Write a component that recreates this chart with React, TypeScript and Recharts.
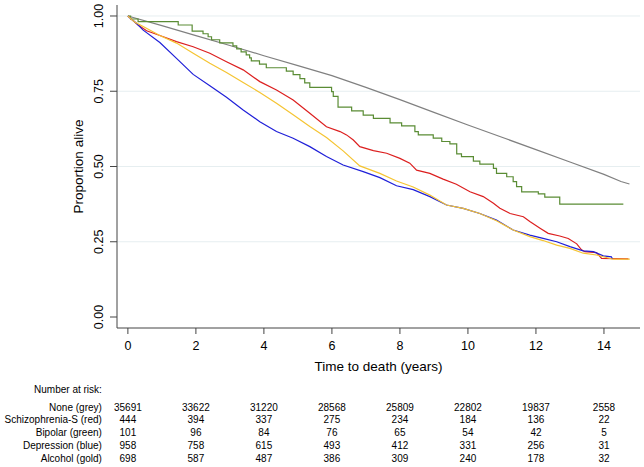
import React from 'react';
import { LineChart, Line, XAxis, YAxis, CartesianGrid, Label } from 'recharts';

const FONT = '"Liberation Sans", Arial, Helvetica, sans-serif';

const xTicks = [0, 2, 4, 6, 8, 10, 12, 14];
const yTicks = [0, 0.25, 0.5, 0.75, 1];
const gridValues = [0.25, 0.5, 0.75, 1];

const riskLabels = ['None (grey)', 'Schizophrenia-S (red)', 'Bipolar (green)', 'Depression (blue)', 'Alcohol (gold)'];
const riskNone = [35691, 33622, 31220, 28568, 25809, 22802, 19837, 2558];
const riskSchizo = [444, 394, 337, 275, 234, 184, 136, 22];
const riskBipolar = [101, 96, 84, 76, 65, 54, 42, 5];
const riskDepression = [958, 758, 615, 493, 412, 331, 256, 31];
const riskAlcohol = [698, 587, 487, 386, 309, 240, 178, 32];
const riskRows = [riskNone, riskSchizo, riskBipolar, riskDepression, riskAlcohol];

// None (grey)
const noneT = [0, 1, 2, 3, 4, 5, 6, 7, 8, 9, 10, 11, 12, 13, 14, 14.5, 14.75];
const noneS = [1, 0.968, 0.935, 0.902, 0.868, 0.835, 0.802, 0.763, 0.722, 0.68, 0.638, 0.597, 0.556, 0.515, 0.474, 0.45, 0.442];

// Schizophrenia-S (red)
const schizoT = [0, 0.15, 0.3, 0.55, 0.94, 1.43, 1.92, 2.41, 2.9, 3.39, 3.88, 4.37, 4.86, 5.35, 5.84, 6.24, 6.43, 6.63, 6.82, 7.22, 7.61, 8.0, 8.29, 8.49, 8.88, 9.27, 9.66, 10.06, 10.45, 10.75, 10.94, 11.24, 11.63, 11.82, 12.12, 12.36, 12.7, 12.95, 13.2, 13.34, 13.44, 13.78, 13.93, 14.72];
const schizoS = [1, 0.985, 0.97, 0.951, 0.935, 0.915, 0.898, 0.876, 0.848, 0.821, 0.782, 0.754, 0.721, 0.677, 0.632, 0.616, 0.605, 0.588, 0.566, 0.553, 0.544, 0.527, 0.511, 0.488, 0.477, 0.458, 0.441, 0.416, 0.4, 0.378, 0.361, 0.344, 0.333, 0.317, 0.295, 0.278, 0.269, 0.261, 0.243, 0.223, 0.217, 0.214, 0.195, 0.193];

// Bipolar (green) - step function
const bipolarT = [0, 0.08, 0.3, 1.48, 1.89, 2.21, 2.36, 2.46, 2.7, 3.09, 3.2, 3.33, 3.48, 3.58, 3.63, 3.87, 4.07, 4.66, 4.86, 5.06, 5.2, 5.35, 5.99, 6.04, 6.18, 6.58, 6.92, 7.22, 7.71, 8.05, 8.44, 8.54, 8.98, 9.23, 9.47, 9.67, 9.81, 10.16, 10.35, 10.75, 10.84, 11.14, 11.33, 11.43, 11.58, 12.07, 12.26, 12.7, 14.57];
const bipolarS = [1, 0.99, 0.981, 0.97, 0.95, 0.941, 0.931, 0.921, 0.911, 0.901, 0.891, 0.881, 0.871, 0.861, 0.851, 0.84, 0.828, 0.817, 0.805, 0.792, 0.778, 0.763, 0.749, 0.733, 0.697, 0.685, 0.671, 0.66, 0.645, 0.635, 0.616, 0.605, 0.594, 0.583, 0.575, 0.542, 0.533, 0.518, 0.508, 0.494, 0.477, 0.466, 0.45, 0.433, 0.416, 0.409, 0.398, 0.375, 0.375];

// Depression (blue)
const deprT = [0, 0.1, 0.25, 0.45, 0.94, 1.43, 1.92, 2.41, 2.9, 3.39, 3.88, 4.37, 4.86, 5.35, 5.84, 6.33, 6.92, 7.41, 7.9, 8.39, 8.88, 9.37, 9.86, 10.35, 10.84, 11.33, 11.82, 12.21, 12.61, 13.0, 13.39, 13.69, 13.98, 14.22, 14.25];
const deprS = [1, 0.99, 0.976, 0.953, 0.912, 0.859, 0.806, 0.768, 0.73, 0.688, 0.649, 0.616, 0.594, 0.566, 0.533, 0.505, 0.483, 0.463, 0.436, 0.423, 0.4, 0.372, 0.361, 0.344, 0.322, 0.289, 0.272, 0.261, 0.25, 0.234, 0.22, 0.217, 0.203, 0.2, 0.193];

// Alcohol (gold)
const alcT = [0, 0.2, 0.45, 0.94, 1.43, 1.92, 2.41, 2.9, 3.39, 3.88, 4.37, 4.86, 5.35, 5.84, 6.33, 6.82, 7.41, 7.9, 8.39, 8.88, 9.37, 9.86, 10.35, 10.84, 11.33, 11.82, 12.21, 12.61, 13.0, 13.39, 13.78, 14.27, 14.76];
const alcS = [1, 0.98, 0.965, 0.935, 0.91, 0.876, 0.843, 0.812, 0.779, 0.746, 0.71, 0.672, 0.633, 0.596, 0.552, 0.502, 0.477, 0.452, 0.432, 0.405, 0.372, 0.361, 0.344, 0.32, 0.289, 0.267, 0.254, 0.239, 0.228, 0.212, 0.206, 0.192, 0.192];

const zip = (t: number[], s: number[]) => t.map((v, i) => ({ t: v, s: s[i] }));

const noneData = zip(noneT, noneS);
const schizoData = zip(schizoT, schizoS);
const bipolarData = zip(bipolarT, bipolarS);
const deprData = zip(deprT, deprS);
const alcData = zip(alcT, alcS);

const XTick = (props: any) => {
  const { x, y, payload } = props;
  const idx = xTicks.indexOf(payload.value);
  return (
    <g fontFamily={FONT} fill="#000">
      <text x={x} y={y + 15.5} textAnchor="middle" fontSize={12.5} fill="#000">{payload.value}</text>
      {idx === 0 && (
        <text x={x - 26} y={y + 59} textAnchor="end" fontSize={10} fill="#000">Number at risk:</text>
      )}
      {idx === 0 && riskLabels.map((lab, r) => (
        <text key={'l' + r} x={x - 26} y={y + 76.5 + r * 12.75} textAnchor="end" fontSize={10} fill="#000">{lab}</text>
      ))}
      {riskRows.map((row, r) => (
        <text key={r} x={x} y={y + 76.5 + r * 12.75} textAnchor="middle" fontSize={10} fill="#000">{row[idx]}</text>
      ))}
    </g>
  );
};

const YTick = (props: any) => {
  const { x, y, payload } = props;
  const bx = x - 7;
  return (
    <text x={bx} y={y} transform={`rotate(-90 ${bx} ${y})`} textAnchor="middle" fontSize={12.5} fontFamily={FONT} fill="#000">
      {Number(payload.value).toFixed(2)}
    </text>
  );
};

const XTitle = (props: any) => {
  const vb = props.viewBox || {};
  const cx = vb.x + vb.width / 2;
  return (
    <text x={cx} y={vb.y + 42.5} textAnchor="middle" fontSize={13.5} fontFamily={FONT} fill="#000">Time to death (years)</text>
  );
};

const YTitle = (props: any) => {
  const vb = props.viewBox || {};
  const cy = vb.y + vb.height / 2;
  const bx = 82.5;
  return (
    <text x={bx} y={cy} transform={`rotate(-90 ${bx} ${cy})`} textAnchor="middle" fontSize={13.5} fontFamily={FONT} fill="#000">Proportion alive</text>
  );
};

const AXIS = '#444';

export default function App() {
  return (
    <div style={{ position: 'absolute', left: 0, top: 0, width: 644, height: 467, background: '#fff' }}>
      <LineChart width={644} height={467} margin={{ top: 5, right: 4, left: 0, bottom: 0 }}>
        <CartesianGrid vertical={false} horizontalValues={gridValues} stroke="#e6eef0" strokeWidth={1} />
        <XAxis
          xAxisId={0}
          type="number"
          dataKey="t"
          domain={[-0.32, 15.06]}
          allowDataOverflow
          ticks={xTicks}
          interval={0}
          height={139}
          tickSize={6}
          tickMargin={0}
          tickLine={{ stroke: AXIS }}
          axisLine={{ stroke: AXIS }}
          tick={<XTick />}
        >
          <Label content={<XTitle />} />
        </XAxis>
        <XAxis xAxisId="top" orientation="top" type="number" domain={[-0.32, 15.06]} height={0} tick={false} tickLine={false} axisLine={{ stroke: AXIS }} />
        <YAxis
          yAxisId={0}
          type="number"
          domain={[-0.0365, 1.0365]}
          allowDataOverflow
          ticks={yTicks}
          interval={0}
          width={117}
          tickSize={7}
          tickMargin={0}
          tickLine={{ stroke: AXIS }}
          axisLine={{ stroke: AXIS }}
          tick={<YTick />}
        >
          <Label content={<YTitle />} />
        </YAxis>
        <YAxis yAxisId="right" orientation="right" type="number" domain={[-0.0365, 1.0365]} width={0} tick={false} tickLine={false} axisLine={{ stroke: AXIS }} />
        <Line data={noneData} dataKey="s" type="linear" stroke="#808080" strokeWidth={1.2} dot={false} activeDot={false} isAnimationActive={false} />
        <Line data={schizoData} dataKey="s" type="linear" stroke="#dc1f1f" strokeWidth={1.2} dot={false} activeDot={false} isAnimationActive={false} />
        <Line data={bipolarData} dataKey="s" type="stepAfter" stroke="#5a8c34" strokeWidth={1.2} dot={false} activeDot={false} isAnimationActive={false} />
        <Line data={deprData} dataKey="s" type="linear" stroke="#1f1fd8" strokeWidth={1.2} dot={false} activeDot={false} isAnimationActive={false} />
        <Line data={alcData} dataKey="s" type="linear" stroke="#f5c432" strokeWidth={1.2} dot={false} activeDot={false} isAnimationActive={false} />
      </LineChart>
    </div>
  );
}
